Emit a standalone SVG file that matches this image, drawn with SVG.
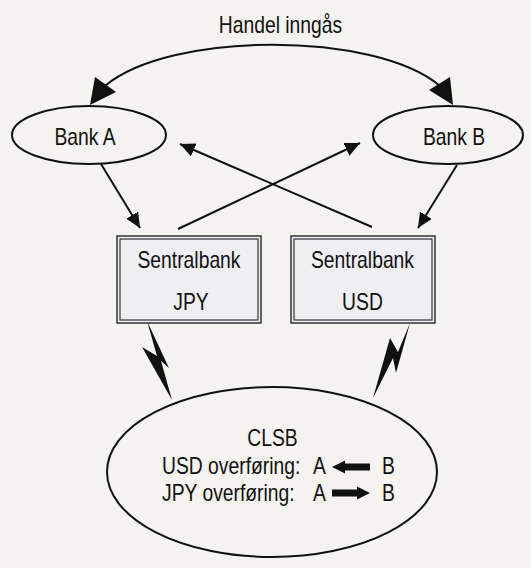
<svg xmlns="http://www.w3.org/2000/svg" width="531" height="568" viewBox="0 0 531 568">
<style>
text{font-family:"Liberation Sans",Arial,sans-serif;font-size:23px;fill:#111}
.c{text-anchor:middle}
.ell{fill:none;stroke:#111;stroke-width:2}
.ln{fill:none;stroke:#111;stroke-width:2}
.box{fill:#efeef3;stroke:#333;stroke-width:1.5}
.inner{fill:none;stroke:#333;stroke-width:1.2}
.solid{fill:#111;stroke:none}
</style>
<defs>
<marker id="ah" markerWidth="16" markerHeight="14" refX="15" refY="7" orient="auto" markerUnits="userSpaceOnUse">
<path d="M0,0 L15,7 L0,14 Z" fill="#111"/>
</marker>
</defs>
<rect width="531" height="568" fill="#f5f3ef"/>
<text class="c" transform="translate(280.5,33) scale(0.84,1)">Handel inngås</text>
<g id="connectors">
<path class="ln" d="M105,86 C170,31 375,31 440,86" stroke-width="3.5"/>
<polygon class="solid" points="90,105 95,77 116,92"/>
<polygon class="solid" points="453,105 450,77 429,90"/>
<line class="ln" x1="101" y1="164" x2="140" y2="228" marker-end="url(#ah)"/>
<line class="ln" x1="457" y1="165" x2="418" y2="228" marker-end="url(#ah)"/>
<line class="ln" x1="178" y1="229" x2="360" y2="143" marker-end="url(#ah)"/>
<line class="ln" x1="372" y1="227" x2="180" y2="144" marker-end="url(#ah)"/>
<polygon class="solid" points="147,321 169,368 161,361 172,400 142,347 157,356"/>
<polygon class="solid" points="410,323 396,373 393,358 373,398 390,338 398,352"/>
</g>
<g id="bankA">
<ellipse class="ell" cx="89" cy="135" rx="77" ry="29"/>
<text class="c" transform="translate(85,145) scale(0.84,1)">Bank A</text>
</g>
<g id="bankB">
<ellipse class="ell" cx="448" cy="135" rx="75" ry="29"/>
<text class="c" transform="translate(454,145) scale(0.84,1)">Bank B</text>
</g>
<g id="sbJPY">
<rect class="box" x="117" y="236" width="144" height="87"/>
<rect class="inner" x="120" y="239" width="138" height="81"/>
<text class="c" transform="translate(189,268) scale(0.84,1)">Sentralbank</text>
<text class="c" transform="translate(191,310) scale(0.84,1)">JPY</text>
</g>
<g id="sbUSD">
<rect class="box" x="291" y="236" width="144" height="87"/>
<rect class="inner" x="294" y="239" width="138" height="81"/>
<text class="c" transform="translate(362.5,268) scale(0.84,1)">Sentralbank</text>
<text class="c" transform="translate(362.5,310) scale(0.84,1)">USD</text>
</g>
<g id="clsb">
<ellipse class="ell" cx="272" cy="472" rx="165" ry="85"/>
<text class="c" transform="translate(272.5,446) scale(0.84,1)">CLSB</text>
<text transform="translate(162,474) scale(0.84,1)">USD overføring:</text>
<text transform="translate(313,474) scale(0.84,1)">A</text>
<polygon class="solid" points="332,467 345,460.5 345,463.5 370,463.5 370,470.5 345,470.5 345,473.5"/>
<text transform="translate(382,474) scale(0.84,1)">B</text>
<text transform="translate(162,501) scale(0.84,1)">JPY overføring:</text>
<text transform="translate(313,501) scale(0.84,1)">A</text>
<polygon class="solid" points="370,493 357,486.5 357,489.5 332,489.5 332,496.5 357,496.5 357,499.5"/>
<text transform="translate(382,501) scale(0.84,1)">B</text>
</g>
</svg>
